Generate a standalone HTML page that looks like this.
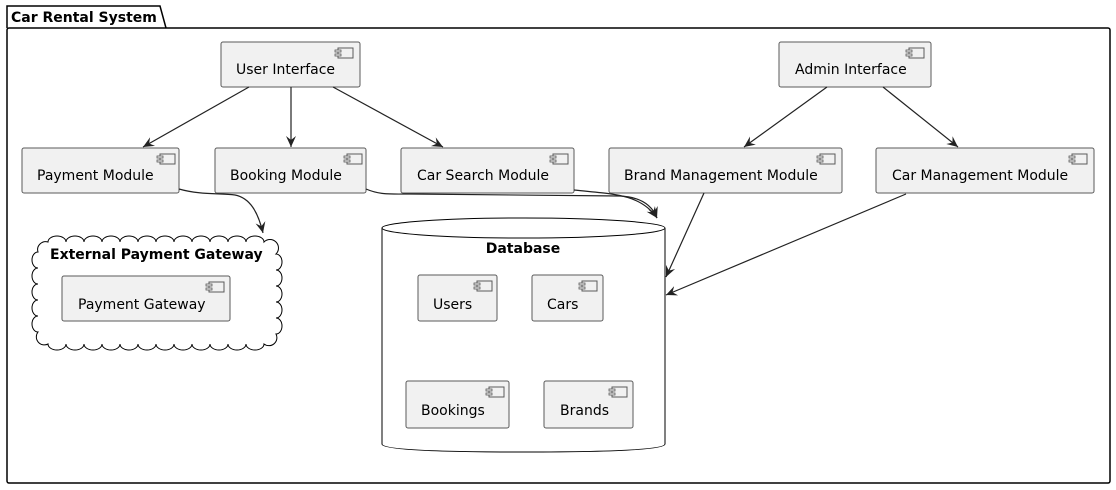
<!DOCTYPE html>
<html><head><meta charset="utf-8"><style>
html,body{margin:0;padding:0;background:#fff;width:1116px;height:490px;overflow:hidden}
text{font-family:"DejaVu Sans","Liberation Sans",sans-serif;font-size:14px;fill:#000}
.b{font-weight:bold}
.c{fill:#f1f1f1;stroke:#5a5a5a;stroke-width:1}
.l{fill:none;stroke:#222;stroke-width:1.2}
</style></head><body>
<svg width="1116" height="490" viewBox="0 0 1116 490" xmlns="http://www.w3.org/2000/svg">
<defs>
<marker id="a" viewBox="0 0 12 12" refX="11" refY="6" markerWidth="12" markerHeight="12" orient="auto" markerUnits="userSpaceOnUse">
<path d="M0,1 L11,6 L0,11 L4,6 Z" fill="#222"/></marker>
<g id="ic"><rect x="0" y="0" width="15" height="10" fill="#f1f1f1" stroke="#5a5a5a"/><rect x="-3" y="2" width="6" height="2" fill="#f1f1f1" stroke="#5a5a5a" stroke-width="0.8"/><rect x="-3" y="6" width="6" height="2" fill="#f1f1f1" stroke="#5a5a5a" stroke-width="0.8"/></g>
</defs>
<!-- package -->
<path d="M7,28 L7,6 L160,6 L166,28" fill="none" stroke="#000" stroke-width="1.5"/>
<rect x="7" y="28" width="1103" height="455" rx="2" fill="none" stroke="#000" stroke-width="1.5"/>
<text x="11" y="22" class="b">Car Rental System</text>

<!-- components -->
<g>
<rect class="c" x="221" y="42" width="139" height="45" rx="2"/><use href="#ic" x="338" y="48"/><text x="236" y="74">User Interface</text>
<rect class="c" x="779" y="42" width="152" height="45" rx="2"/><use href="#ic" x="909" y="48"/><text x="795" y="74">Admin Interface</text>
<rect class="c" x="22" y="148" width="157" height="45" rx="2"/><use href="#ic" x="160" y="154"/><text x="37" y="180">Payment Module</text>
<rect class="c" x="215" y="148" width="151" height="45" rx="2"/><use href="#ic" x="347" y="154"/><text x="230" y="180">Booking Module</text>
<rect class="c" x="401" y="148" width="173" height="45" rx="2"/><use href="#ic" x="553" y="154"/><text x="417" y="180">Car Search Module</text>
<rect class="c" x="609" y="148" width="233" height="45" rx="2"/><use href="#ic" x="820" y="154"/><text x="624" y="180">Brand Management Module</text>
<rect class="c" x="876" y="148" width="218" height="45" rx="2"/><use href="#ic" x="1072" y="154"/><text x="892" y="180">Car Management Module</text>
</g>

<!-- cloud -->
<path fill="#fff" stroke="#000" stroke-width="1" d="M48,242 a9,6 0 0 1 18,0 a9,6 0 0 1 18,0 a9,6 0 0 1 18,0 a9,6 0 0 1 18,0 a9,6 0 0 1 18,0 a9,6 0 0 1 18,0 a9,6 0 0 1 18,0 a9,6 0 0 1 18,0 a9,6 0 0 1 18,0 a9,6 0 0 1 18,0 a9,6 0 0 1 18,0 a9,6 0 0 1 18,0 a8,8 0 0 1 12,12 a6,8 0 0 1 0,16 a6,8 0 0 1 0,16 a6,8 0 0 1 0,16 a6,8 0 0 1 0,16 a6,8 0 0 1 0,16 a8,8 0 0 1 -12,10 a9,6 0 0 1 -18,0 a9,6 0 0 1 -18,0 a9,6 0 0 1 -18,0 a9,6 0 0 1 -18,0 a9,6 0 0 1 -18,0 a9,6 0 0 1 -18,0 a9,6 0 0 1 -18,0 a9,6 0 0 1 -18,0 a9,6 0 0 1 -18,0 a9,6 0 0 1 -18,0 a9,6 0 0 1 -18,0 a9,6 0 0 1 -18,0 a8,8 0 0 1 -10,-12 a6,8 0 0 1 0,-16 a6,8 0 0 1 0,-16 a6,8 0 0 1 0,-16 a6,8 0 0 1 0,-16 a6,8 0 0 1 0,-16 a8,8 0 0 1 10,-10 Z"/>
<text x="50" y="259" class="b">External Payment Gateway</text>
<rect class="c" x="62" y="276" width="168" height="45" rx="2"/><use href="#ic" x="209" y="282"/><text x="78" y="309">Payment Gateway</text>

<!-- database -->
<path d="M382,228 L382,444 Q382,452 523,452 Q665,452 665,444 L665,228" fill="#fff" stroke="#000" stroke-width="1"/>
<ellipse cx="523.5" cy="228" rx="141.5" ry="10" fill="#fff" stroke="#000" stroke-width="1"/>
<text x="523" y="253" class="b" text-anchor="middle">Database</text>
<rect class="c" x="418" y="275" width="79" height="46" rx="2"/><use href="#ic" x="477" y="281"/><text x="433" y="309">Users</text>
<rect class="c" x="532" y="275" width="71" height="46" rx="2"/><use href="#ic" x="582" y="281"/><text x="547" y="309">Cars</text>
<rect class="c" x="406" y="381" width="103" height="47" rx="2"/><use href="#ic" x="489" y="387"/><text x="421" y="415">Bookings</text>
<rect class="c" x="544" y="381" width="89" height="47" rx="2"/><use href="#ic" x="612" y="387"/><text x="560" y="415">Brands</text>

<!-- arrows -->
<g marker-end="url(#a)">
<line class="l" x1="249" y1="87" x2="143" y2="147"/>
<line class="l" x1="291" y1="87" x2="291" y2="147"/>
<line class="l" x1="333" y1="87" x2="443" y2="147"/>
<line class="l" x1="827" y1="87" x2="744" y2="147"/>
<line class="l" x1="883" y1="87" x2="958" y2="147"/>
<path class="l" d="M179,189 C200,195 220,193 235,195 C250,198 258,212 263,233"/>
<path class="l" d="M366,189 C380,195 390,194 410,194 L620,196 C640,197 652,205 657,218"/>
<path class="l" d="M574,190 C610,194 640,193 657,218"/>
<line class="l" x1="704" y1="193" x2="666" y2="277"/>
<line class="l" x1="906" y1="194" x2="666" y2="295"/>
</g>
</svg>
</body></html>
